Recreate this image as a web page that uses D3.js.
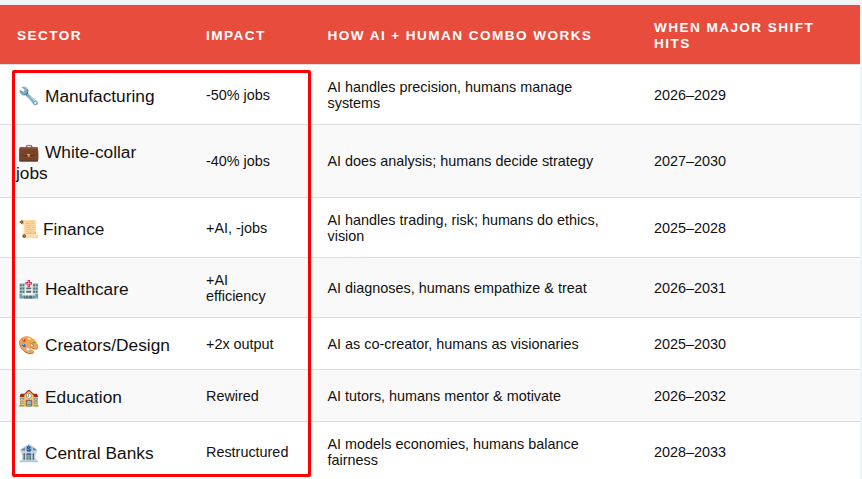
<!DOCTYPE html>
<html><head><meta charset="utf-8">
<script src="https://cdn.jsdelivr.net/npm/d3@7"></script>
<style>
html,body{margin:0;padding:0;background:#f0f3f6;width:862px;height:479px;overflow:hidden;font-family:"Liberation Sans",Arial,sans-serif;color:#111}
#wrap{position:absolute;left:0;top:5px;width:860px;background:#fff;height:474px;overflow:hidden}
table{border-collapse:collapse;table-layout:fixed;width:860px}
th{background:#e74c3c;color:#fff;font-size:13.6px;font-weight:700;letter-spacing:1.42px;text-align:left;padding:4px 16px 0;line-height:16px;height:59px;box-sizing:border-box;border-bottom:1px solid #ddd}
th:first-child{padding-left:17px}
td{font-size:14.4px;line-height:16px;padding:1px 16px 0;box-sizing:border-box;border-bottom:1px solid #ddd;vertical-align:middle}
td.s{font-size:17.3px;line-height:21px;padding:5px 18px 0 16px}
td.i{padding-right:20px}
tr:nth-child(even) td{background:#f9f9f9}
.e{display:inline-block;width:23px;margin-left:2px;margin-right:4px;font-size:17.3px}
tr:nth-child(3) .e{margin-right:2px}
#box{position:absolute;left:12px;top:70px;width:299px;height:407px;box-sizing:border-box;border:3px solid #f00;border-radius:2px}
</style></head><body>
<div id="wrap"><table><colgroup><col style="width:190px"><col style="width:121.5px"><col style="width:326.5px"><col style="width:222px"></colgroup><thead><tr></tr></thead><tbody></tbody></table></div>
<div id="box"></div>
<script>
const headers=["SECTOR","IMPACT","HOW AI + HUMAN COMBO WORKS","WHEN MAJOR SHIFT HITS"];
const icons=["🔧","💼","📜","🏥","🎨","🏫","🏦"];
const sectors=["Manufacturing","White-collar jobs","Finance","Healthcare","Creators/Design","Education","Central Banks"];
const impacts=["-50% jobs","-40% jobs","+AI, -jobs","+AI efficiency","+2x output","Rewired","Restructured"];
const combos=["AI handles precision, humans manage systems","AI does analysis; humans decide strategy","AI handles trading, risk; humans do ethics, vision","AI diagnoses, humans empathize & treat","AI as co-creator, humans as visionaries","AI tutors, humans mentor & motivate","AI models economies, humans balance fairness"];
const periods=["2026–2029","2027–2030","2025–2028","2026–2031","2025–2030","2026–2032","2028–2033"];
const rowHeights=[60,73,60,60,52,52,60];
d3.select("thead tr").selectAll("th").data(headers).join("th").text(d=>d);
const rows=d3.select("tbody").selectAll("tr").data(sectors).join("tr").style("height",(d,i)=>rowHeights[i]+"px");
const s=rows.append("td").attr("class","s");
s.append("span").attr("class","e").text((d,i)=>icons[i]);
s.append("span").text(d=>d);
rows.append("td").attr("class","i").text((d,i)=>impacts[i]);
rows.append("td").text((d,i)=>combos[i]);
rows.append("td").text((d,i)=>periods[i]);
</script></body></html>
